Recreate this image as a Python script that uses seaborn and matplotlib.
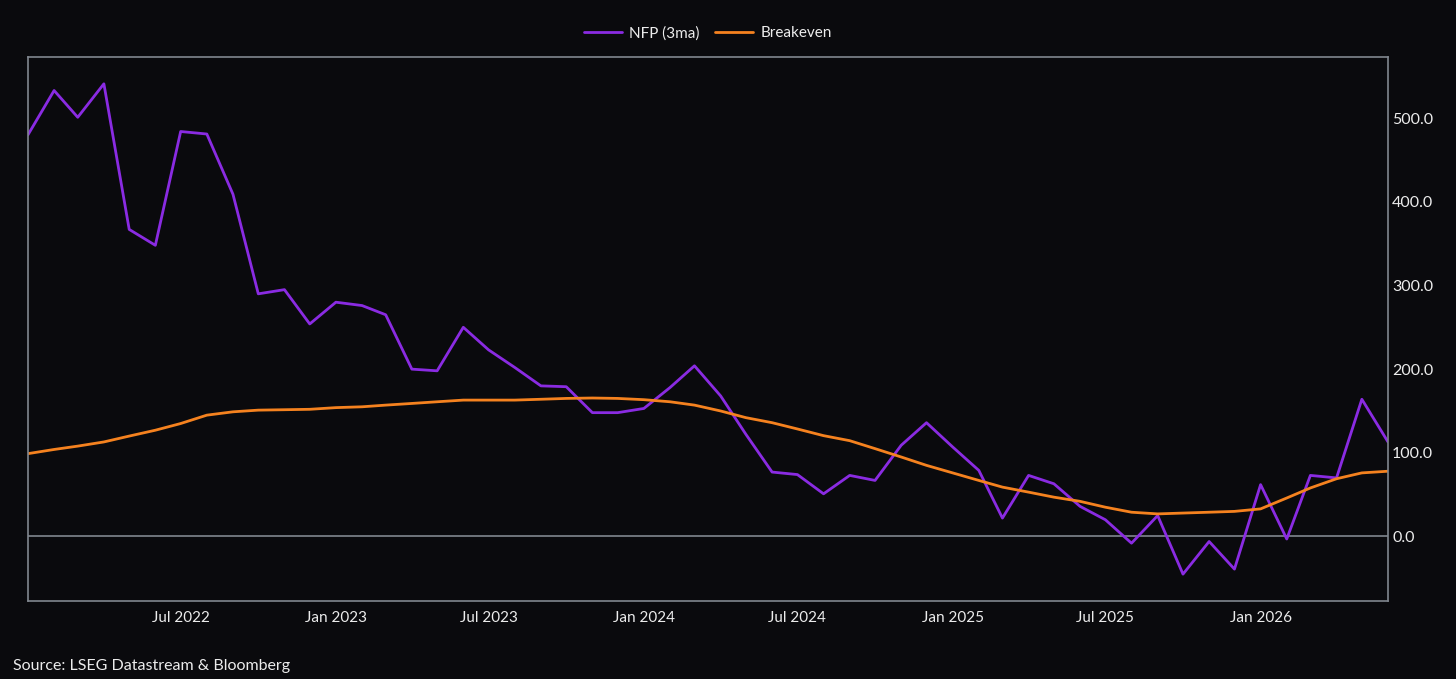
import seaborn as sns
import matplotlib.pyplot as plt
import matplotlib.dates as mdates
import pandas as pd

# monthly, Jan 2022 - Jun 2026
start_month = "2022-01-01"
n_months = 54

nfp_3ma = [
    480, 533, 501, 541, 367, 348, 484, 481, 409, 290, 295, 254,
    280, 276, 265, 200, 198, 250, 223, 202, 180, 179, 148, 148,
    153, 178, 204, 168, 122, 77, 74, 51, 73, 67, 109, 136,
    107, 79, 22, 73, 63, 36, 20, -8, 25, -45, -6, -39,
    62, -3, 73, 70, 164, 113,
]
breakeven = [
    99, 104, 108, 113, 120, 127, 135, 145, 149, 151, 151.5, 152,
    154, 155, 157, 159, 161, 163, 163, 163, 164, 165, 165.5, 165,
    163.5, 161, 157, 150, 142, 136, 128.5, 120.5, 114.5, 105, 95, 85,
    76, 67, 59, 53, 47, 42, 35, 29, 27, 28, 29, 30,
    33, 46, 58, 69, 76, 78,
]
series_names = ["NFP (3ma)", "Breakeven"]
series_colors = ["#8a2be2", "#f5821f"]

dates = pd.date_range(start_month, periods=n_months, freq="MS")
df = pd.DataFrame({"Date": dates, series_names[0]: nfp_3ma, series_names[1]: breakeven})
long_df = df.melt(id_vars="Date", var_name="Series", value_name="Value")

bg = "#0a0a0d"
text_col = "#ececec"
edge_col = "#80868e"

sns.set_theme(style="dark")
plt.rcParams["font.family"] = ["Lato", "DejaVu Sans"]

fig = plt.figure(figsize=(14.56, 6.79), dpi=100, facecolor=bg)
ax = fig.add_axes([0.0192, 0.115, 0.9341, 0.801])
ax.set_facecolor(bg)

sns.lineplot(data=long_df, x="Date", y="Value", hue="Series",
             palette=dict(zip(series_names, series_colors)),
             linewidth=2, ax=ax)

ax.axhline(0, color=edge_col, linewidth=1.2, zorder=1)

ax.set_xlim(dates[0], dates[-1])
ax.set_ylim(-77, 573)
ax.set_xlabel("")
ax.set_ylabel("")
ax.grid(False)

ax.yaxis.tick_right()
ax.set_yticks([0, 100, 200, 300, 400, 500])
ax.yaxis.set_major_formatter(plt.FuncFormatter(lambda v, p: f"{v:.1f}"))
ax.xaxis.set_major_locator(mdates.MonthLocator(bymonth=[1, 7]))
ax.xaxis.set_major_formatter(mdates.DateFormatter("%b %Y"))
ax.tick_params(axis="both", colors=text_col, length=0)
ax.tick_params(axis="y", pad=3, labelsize=11.5)
ax.tick_params(axis="x", pad=7, labelsize=11)
# drop the Jan 2022 label at the left edge, like the reference
for lbl, loc in zip(ax.get_xticklabels(), ax.get_xticks()):
    if mdates.num2date(loc).year == 2022 and mdates.num2date(loc).month == 1:
        lbl.set_visible(False)

for s in ax.spines.values():
    s.set_color(edge_col)
    s.set_linewidth(1.2)

leg = ax.legend(loc="center", ncol=2, frameon=False, fontsize=11, handlelength=2.5,
                columnspacing=1.0, handletextpad=0.5, labelcolor=text_col)
leg.set_bbox_to_anchor((0.4863, 0.951), transform=fig.transFigure)

fig.text(0.009, 0.009, "Source: LSEG Datastream & Bloomberg", color=text_col,
         fontsize=11.5, ha="left", va="bottom")

fig.savefig("out.png", dpi=100, facecolor=bg)
